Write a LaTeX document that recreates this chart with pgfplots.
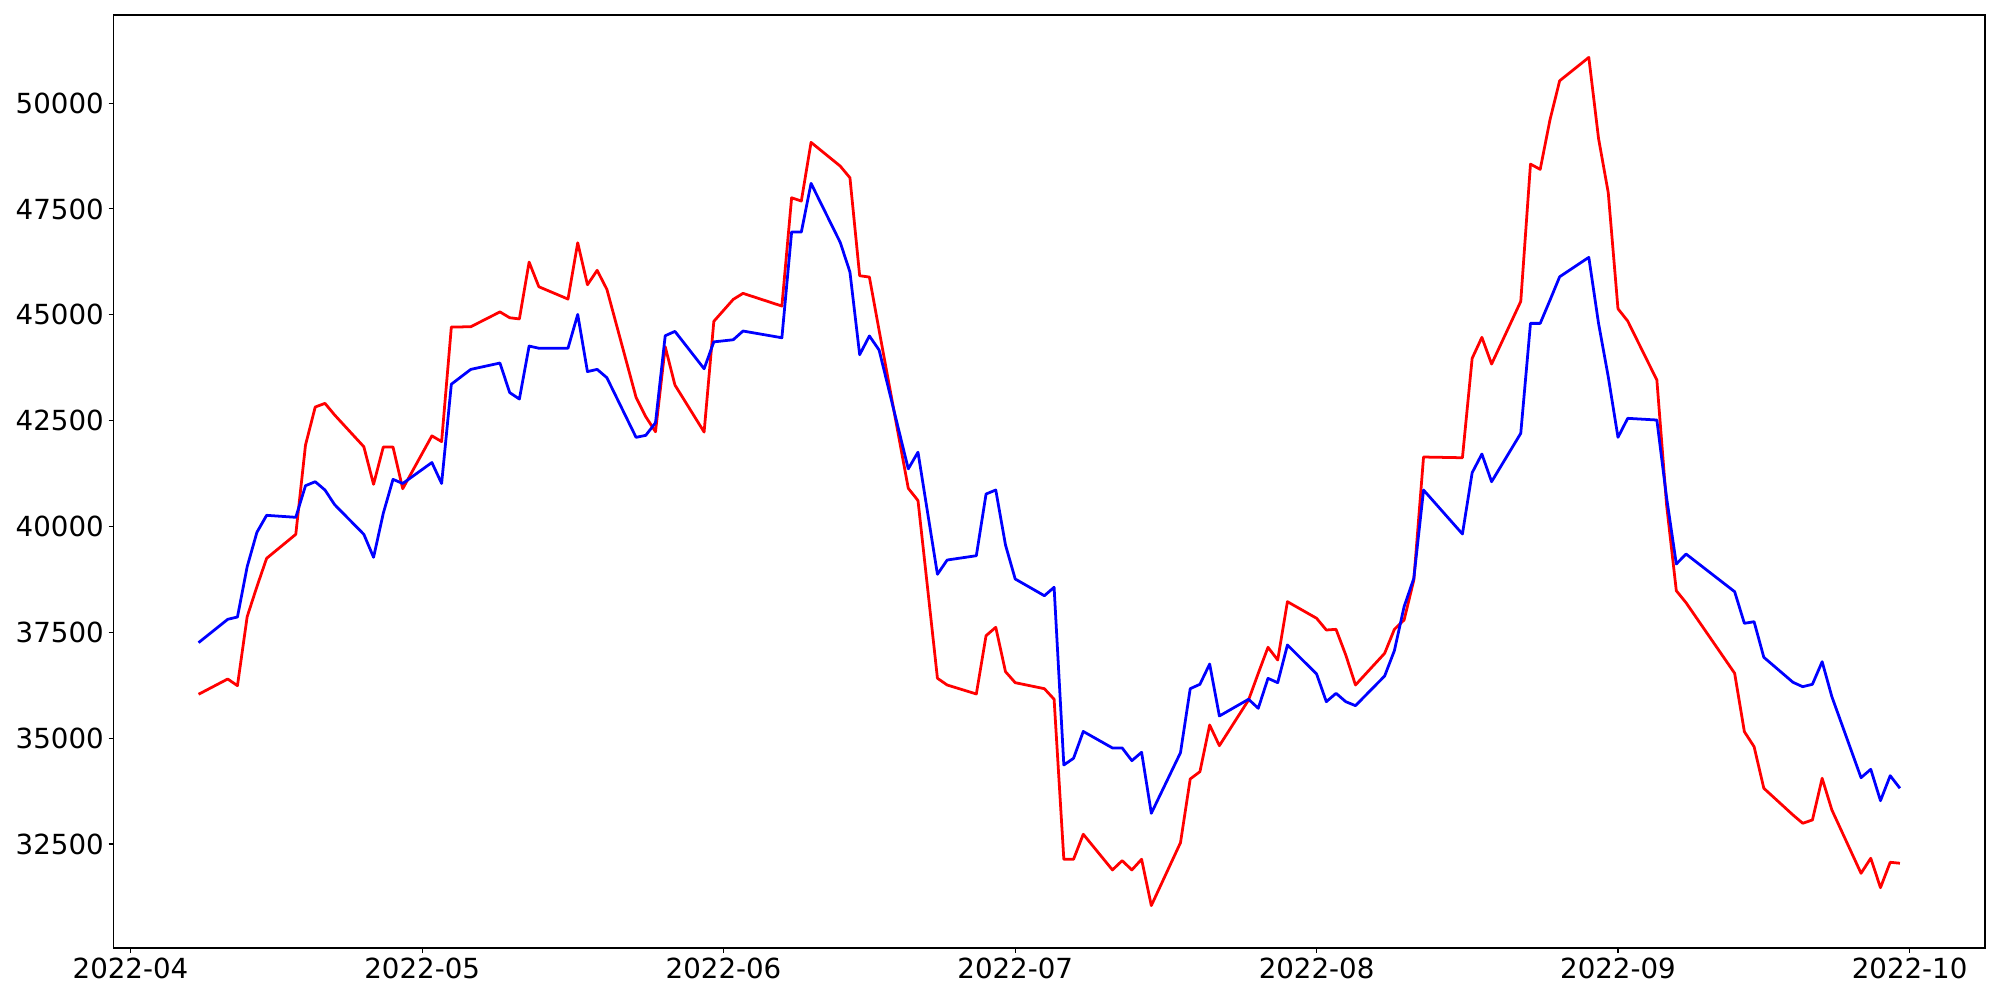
\documentclass[border=0pt]{standalone}
\usepackage{fontspec}
\setmainfont{DejaVu Sans}
\usepackage{pgfplots}
\pgfplotsset{compat=1.18}
\usepgfplotslibrary{dateplot}
\usepackage{pgfplotstable}

\pgfplotstableread{
date blue red
2022-04-08 37255 36036
2022-04-11 37807 36397
2022-04-12 37861 36239
2022-04-13 39049 37869
2022-04-14 39861 38577
2022-04-15 40263 39247
2022-04-18 40216 39814
2022-04-19 40963 41923
2022-04-20 41057 42821
2022-04-21 40861 42908
2022-04-22 40514 42632
2022-04-25 39814 41883
2022-04-26 39271 40995
2022-04-27 40310 41876
2022-04-28 41113 41876
2022-04-29 41015 40891
2022-05-02 41510 42140
2022-05-03 41015 42005
2022-05-04 43360 44710
2022-05-06 43710 44717
2022-05-09 43860 45068
2022-05-10 43163 44930
2022-05-11 43010 44902
2022-05-12 44261 46245
2022-05-13 44210 45662
2022-05-16 44210 45371
2022-05-17 45008 46701
2022-05-18 43658 45709
2022-05-19 43710 46049
2022-05-20 43513 45600
2022-05-23 42105 43050
2022-05-24 42152 42592
2022-05-25 42450 42237
2022-05-26 44505 44245
2022-05-27 44608 43340
2022-05-30 43725 42230
2022-05-31 44360 44845
2022-06-02 44410 45364
2022-06-03 44616 45506
2022-06-07 44457 45206
2022-06-08 46954 47764
2022-06-09 46954 47686
2022-06-10 48104 49072
2022-06-13 46710 48512
2022-06-14 46010 48236
2022-06-15 44057 45922
2022-06-16 44500 45891
2022-06-17 44167 44632
2022-06-20 41360 40901
2022-06-21 41755 40612
2022-06-22 40310 38518
2022-06-23 38870 36414
2022-06-24 39207 36255
2022-06-27 39309 36043
2022-06-28 40766 37420
2022-06-29 40861 37618
2022-06-30 39562 36570
2022-07-01 38759 36310
2022-07-04 38364 36168
2022-07-05 38563 35918
2022-07-06 34366 32139
2022-07-07 34524 32139
2022-07-08 35158 32730
2022-07-11 34768 31887
2022-07-12 34768 32106
2022-07-13 34468 31887
2022-07-14 34666 32139
2022-07-15 33225 31045
2022-07-18 34657 32531
2022-07-19 36168 34036
2022-07-20 36272 34208
2022-07-21 36751 35311
2022-07-22 35523 34822
2022-07-25 35918 35901
2022-07-26 35705 36532
2022-07-27 36413 37146
2022-07-28 36310 36846
2022-07-29 37200 38223
2022-08-01 36515 37831
2022-08-02 35861 37554
2022-08-03 36059 37570
2022-08-04 35861 36964
2022-08-05 35767 36255
2022-08-08 36468 37004
2022-08-09 37066 37570
2022-08-10 38105 37791
2022-08-11 38775 38735
2022-08-12 40861 41640
2022-08-16 39822 41623
2022-08-17 41269 43971
2022-08-18 41711 44467
2022-08-19 41057 43836
2022-08-22 42200 45316
2022-08-23 44797 48559
2022-08-24 44797 48434
2022-08-25 45341 49599
2022-08-26 45898 50527
2022-08-29 46356 51079
2022-08-30 44797 49166
2022-08-31 43536 47882
2022-09-01 42105 45142
2022-09-02 42554 44852
2022-09-05 42514 43458
2022-09-06 40681 40506
2022-09-07 39113 38482
2022-09-08 39349 38199
2022-09-13 38459 36532
2022-09-14 37712 35153
2022-09-15 37750 34798
2022-09-16 36910 33816
2022-09-19 36319 33185
2022-09-20 36215 32990
2022-09-21 36272 33067
2022-09-22 36806 34052
2022-09-23 35979 33304
2022-09-26 34066 31808
2022-09-27 34264 32163
2022-09-28 33523 31468
2022-09-29 34113 32068
2022-09-30 33816 32045
}\data

\begin{document}
\begin{tikzpicture}
\path[use as bounding box] (-1.135in,-0.52in) rectangle (18.865in,9.48in);
\begin{axis}[
  at={(0,0)}, anchor=south west,
  scale only axis, width=18.715in, height=9.33in,
  date coordinates in=x,
  xmin=2022-03-30 06:00, xmax=2022-10-08 18:00,
  ymin=30043, ymax=52081,
  xtick={2022-04-01,2022-05-01,2022-06-01,2022-07-01,2022-08-01,2022-09-01,2022-10-01},
  xticklabels={2022-04,2022-05,2022-06,2022-07,2022-08,2022-09,2022-10},
  ytick={32500,35000,37500,40000,42500,45000,47500,50000},
  scaled y ticks=false,
  yticklabel style={/pgf/number format/fixed,/pgf/number format/1000 sep={},/pgf/number format/assume math mode=true},
  tick label style={font=\fontsize{20}{24}\selectfont, text=black},
  xtick pos=bottom, ytick pos=left,
  tick align=outside,
  major tick length=3.5pt,
  every tick/.style={black, line width=0.8pt},
  axis line style={black, line width=0.8pt},
  minor tick num=0,
  clip=true,
]
\addplot[red, line width=2pt, line join=round] table[x=date, y=red] {\data};
\addplot[blue, line width=2pt, line join=round] table[x=date, y=blue] {\data};
\end{axis}
\end{tikzpicture}
\end{document}
